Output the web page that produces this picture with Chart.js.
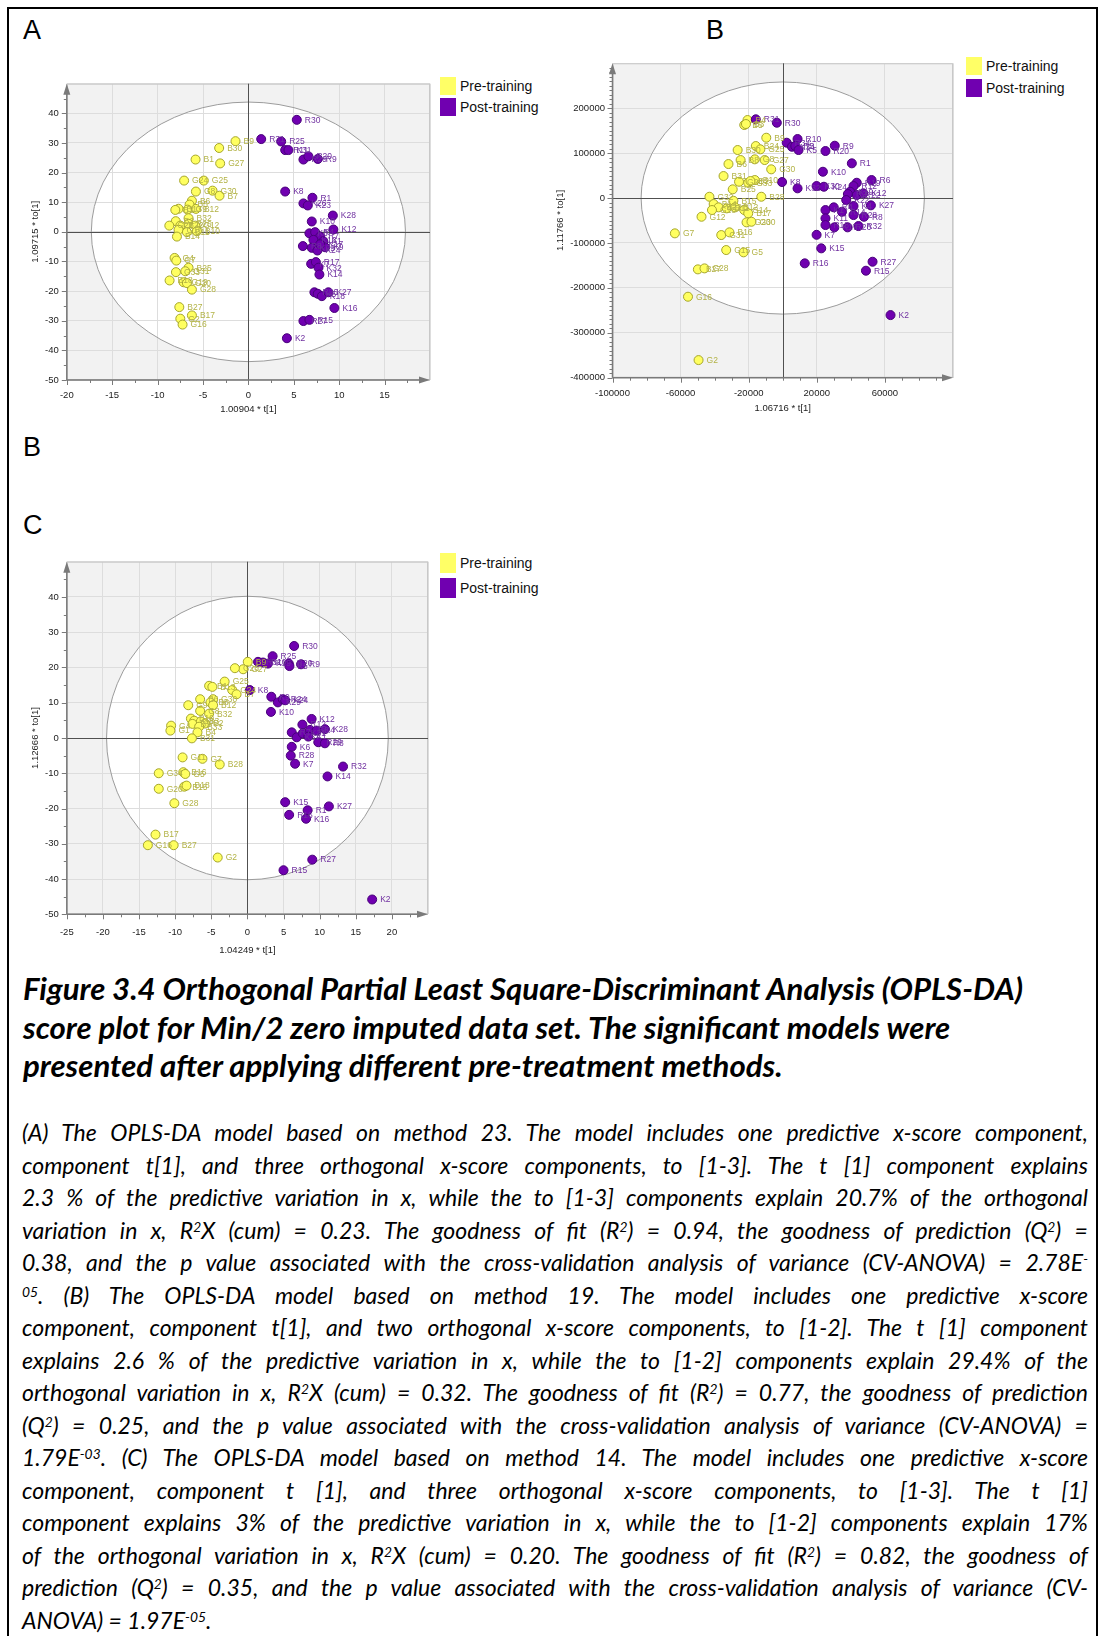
<!DOCTYPE html>
<html>
<head>
<meta charset="utf-8">
<script src="https://cdn.jsdelivr.net/npm/chart.js@4.4.1/dist/chart.umd.min.js"></script>
<style>
html, body { margin: 0; padding: 0; background: #fff; }
body { width: 1099px; height: 1636px; position: relative; overflow: hidden; font-family: 'Liberation Sans', Arial, sans-serif; }
.frame { position: absolute; left: 7px; top: 7px; width: 1087px; height: 1700px; border: 2px solid #000; border-bottom: none; }
.plabel { position: absolute; font-size: 27px; line-height: 27px; color: #000; }
canvas { position: absolute; }
.lg { position: absolute; font-size: 14px; color: #111; white-space: nowrap; }
.lg i { position: absolute; left: 0; top: 0; width: 16px; }
.lg span { position: absolute; left: 20px; top: 0; }
.title { position: absolute; left: 23px; top: 969px; font-family: Lato, sans-serif; font-style: italic; font-weight: 700; font-size: 25px; line-height: 38.5px; white-space: nowrap; color: #000; }
.body { position: absolute; left: 22px; top: 1116px; width: 1066px; font-family: Lato, sans-serif; font-style: italic; font-size: 23px; line-height: 32.5px; color: #000; }
.body div { white-space: nowrap; }
sup { font-size: 0.6em; position: relative; top: -0.5em; vertical-align: baseline; line-height: 0; }
</style>
</head>
<body>
<div class="frame"></div>

<div class="plabel" style="left:23px;top:17px">A</div>
<div class="plabel" style="left:706px;top:17px">B</div>
<div class="plabel" style="left:23px;top:434px">B</div>
<div class="plabel" style="left:23px;top:512px">C</div>

<canvas id="chA" width="430" height="350" style="left:10px;top:70px"></canvas>
<canvas id="chB" width="415" height="370" style="left:548px;top:50px"></canvas>
<canvas id="chC" width="430" height="412" style="left:10px;top:548px"></canvas>

<div class="lg" style="left:440px;top:77px;height:18px;line-height:18px"><i style="height:18px;background:#ffff66"></i><span>Pre-training</span></div>
<div class="lg" style="left:440px;top:98px;height:18px;line-height:18px"><i style="height:18px;background:#7000b0"></i><span>Post-training</span></div>
<div class="lg" style="left:966px;top:57px;height:18px;line-height:18px"><i style="height:18px;background:#ffff66"></i><span>Pre-training</span></div>
<div class="lg" style="left:966px;top:79px;height:18px;line-height:18px"><i style="height:18px;background:#7000b0"></i><span>Post-training</span></div>
<div class="lg" style="left:440px;top:553px;height:20px;line-height:20px"><i style="height:20px;background:#ffff66"></i><span>Pre-training</span></div>
<div class="lg" style="left:440px;top:578px;height:20px;line-height:20px"><i style="height:20px;background:#7000b0"></i><span>Post-training</span></div>

<div class="title" id="title">
  <div>Figure 3.4 Orthogonal Partial Least Square-Discriminant Analysis (OPLS-DA)</div>
  <div>score plot for Min/2 zero imputed data set. The significant models were</div>
  <div>presented after applying different pre-treatment methods.</div>
</div>

<div class="body" id="caption">
  <div class="jl">(A) The OPLS-DA model based on method 23. The model includes one predictive x-score component,</div>
  <div class="jl">component t[1], and three orthogonal x-score components, to [1-3]. The t [1] component explains</div>
  <div class="jl">2.3 % of the predictive variation in x, while the to [1-3] components explain 20.7% of the orthogonal</div>
  <div class="jl">variation in x, R<sup>2</sup>X (cum) = 0.23. The goodness of fit (R<sup>2</sup>) = 0.94, the goodness of prediction (Q<sup>2</sup>) =</div>
  <div class="jl">0.38, and the p value associated with the cross-validation analysis of variance (CV-ANOVA) = 2.78E<sup>-</sup></div>
  <div class="jl"><sup>05</sup>. (B) The OPLS-DA model based on method 19. The model includes one predictive x-score</div>
  <div class="jl">component, component t[1], and two orthogonal x-score components, to [1-2]. The t [1] component</div>
  <div class="jl">explains 2.6 % of the predictive variation in x, while the to [1-2] components explain 29.4% of the</div>
  <div class="jl">orthogonal variation in x, R<sup>2</sup>X (cum) = 0.32. The goodness of fit (R<sup>2</sup>) = 0.77, the goodness of prediction</div>
  <div class="jl">(Q<sup>2</sup>) = 0.25, and the p value associated with the cross-validation analysis of variance (CV-ANOVA) =</div>
  <div class="jl">1.79E<sup>-03</sup>. (C) The OPLS-DA model based on method 14. The model includes one predictive x-score</div>
  <div class="jl">component, component t [1], and three orthogonal x-score components, to [1-3]. The t [1]</div>
  <div class="jl">component explains 3% of the predictive variation in x, while the to [1-2] components explain 17%</div>
  <div class="jl">of the orthogonal variation in x, R<sup>2</sup>X (cum) = 0.20. The goodness of fit (R<sup>2</sup>) = 0.82, the goodness of</div>
  <div class="jl">prediction (Q<sup>2</sup>) = 0.35, and the p value associated with the cross-validation analysis of variance (CV-</div>
  <div>ANOVA) = 1.97E<sup>-05</sup>.</div>
</div>

<script>
// ---- Panel A : method 23 ---------------------------------------------
const A_PRE_NAMES = ['B9','B30','B1','G27','G24','G25','G8','G30','B7','B6','B5','B13','B3','G9','B12','B32','B2','G22','B22','B26','G12','G10','B11','B10','B14','G4','G7','B25','G31','G33','B18','G19','G20','G28','B27','B17','G2','G16'];
const A_PRE_X = [-1.42,-3.22,-5.82,-3.11,-7.08,-4.91,-5.78,-3.95,-3.18,-6.22,-6.48,-7.69,-8.05,-6.70,-5.78,-6.59,-8.00,-8.71,-7.50,-6.59,-5.85,-7.69,-6.77,-5.67,-7.87,-8.13,-7.94,-6.59,-6.95,-7.98,-8.68,-7.14,-6.77,-6.22,-7.61,-6.22,-7.50,-7.25];
const A_PRE_Y = [30.6,28.3,24.4,23.1,17.3,17.3,13.6,13.9,12.2,10.5,9.2,7.8,7.4,7.5,7.75,4.6,3.6,2.1,2.1,2.7,2.1,0.7,-0.1,0.2,-1.6,-8.8,-9.7,-12.1,-13.3,-13.6,-16.4,-17.0,-17.3,-19.5,-25.4,-28.2,-29.3,-31.3];
const A_POST_NAMES = ['R30','R31','R25','R11','K31','R29','R20','R9','K8','R1','K26','K23','K28','K10','K12','K3','R4','R7','K13','K1','R8','K29','K24','K9','K17','K7','R17','K32','K14','R26','K5','K18','K27','K16','R27','R15','K2'];
const A_POST_X = [5.33,1.41,3.61,4.05,4.41,6.06,6.61,7.65,4.05,7.05,6.06,6.54,9.30,6.98,9.36,6.72,7.35,7.90,7.16,8.26,6.00,6.98,7.60,8.45,7.90,6.91,7.43,7.72,7.82,7.27,7.64,8.09,8.81,9.47,6.06,6.72,4.24];
const A_POST_Y = [37.8,31.3,30.5,27.6,27.6,24.4,25.5,24.6,13.6,11.5,9.6,8.9,5.5,3.5,0.8,-0.5,-0.1,-1.6,-2.7,-3.2,-4.8,-5.4,-6.3,-5.2,-4.2,-10.8,-10.2,-12.1,-14.4,-20.4,-20.9,-21.7,-20.4,-25.7,-30.1,-29.7,-35.9];
const A_ELLIPSE = [17.3, 43.8];

// ---- Panel B : method 19 ---------------------------------------------
const B_PRE_NAMES = ['B4','B5','B3','B9','B24','G25','B30','B8','G8','G27','G30','B6','B31','G24','G33','B10','B2','B25','B28','G32','B14','B15','B22','G10','B11','B12','G14','B17','G12','G20','G30','G7','G31','B16','G15','G5','B27','G28','G16','G2'];
const B_PRE_X = [-20690,-22610,-21620,-9680,-15830,-13160,-26490,-24750,-16410,-10610,-6780,-31880,-34780,-25680,-20290,-16410,-18960,-29390,-12580,-43070,-40580,-28990,-37680,-41560,-32870,-28000,-22610,-20290,-47710,-21270,-18380,-63360,-36120,-31300,-33220,-23010,-49850,-45970,-55660,-49450];
const B_PRE_Y = [173700,162600,164800,134300,115800,108400,106900,84630,86180,84630,63910,75720,48990,36300,34070,40090,37860,19370,2895,2895,-13360,-6013,-20710,-26720,-22940,-20710,-26720,-34070,-41640,-54120,-52780,-78610,-82400,-76390,-115800,-120900,-158800,-156600,-219700,-360800];
const B_POST_NAMES = ['R31','R30','R34','K34','R10','R5','K5','R20','R9','R1','K10','K8','K32','K30','K24','R6','R19','R12','K19','R2','K22','R22','K12','K27','K4','R4','R14','K1','K11','R28','R8','R18','K17','R26','R32','K7','K15','R16','R27','R15','K2'];
const B_POST_X = [-15830,-3478,2319,5391,8696,7362,9275,25100,30550,40580,23590,-400,8696,19880,24170,52170,43480,41560,39590,38260,37280,43480,47350,51770,41560,29970,34780,25100,25100,41560,47710,25100,30320,38090,44460,19880,22610,12930,52750,48870,63310];
const B_POST_Y = [175300,167700,123200,114200,131400,115800,106900,104700,116500,77270,58570,35630,21600,26720,25170,40090,34070,26720,14030,8908,-4454,6681,10470,-16260,-17820,-20710,-30510,-26720,-45210,-37860,-41640,-60130,-65250,-65250,-62360,-81860,-112000,-145400,-141800,-161800,-260600];
const B_X_TICKS = [-100000, -60000, -20000, 20000, 60000, 100000];
const B_ELLIPSE = [83200, 258400];

// ---- Panel C : method 14 ---------------------------------------------
const C_PRE_NAMES = ['B9','G27','G26','G25','B1','B13','G24','B7','B6','G30','B8','B12','G9','G8','B32','B10','G3','B5','B3','B2','B33','G4','G1','B4','B31','G11','G7','B28','G34','B16','G5','G20','B15','B18','G28','B17','G16','B27','G2'];
const C_PRE_X = [0.05,-0.59,-1.73,-3.15,-5.30,-4.85,-2.10,-1.50,-6.54,-4.75,-5.12,-4.75,-8.19,-6.54,-5.30,-7.82,-7.36,-7.60,-6.44,-5.85,-6.68,-10.56,-10.66,-6.91,-7.68,-8.97,-6.22,-3.83,-12.27,-8.87,-8.60,-12.27,-8.74,-8.42,-10.11,-12.72,-13.78,-10.21,-4.11];
const C_PRE_Y = [21.6,19.5,19.8,16.0,14.8,14.5,13.6,12.4,11.0,11.0,10.1,9.3,9.3,7.7,6.9,5.5,4.9,4.0,4.7,4.1,3.2,3.5,2.1,1.6,-0.1,-5.5,-5.9,-7.5,-10.0,-9.7,-10.2,-14.4,-13.8,-13.5,-18.5,-27.4,-30.4,-30.4,-33.9];
const C_POST_NAMES = ['R30','R25','R31','R10','K19','R20','K5','R9','K8','K9','K29','R24','K24','K10','K12','R12','R7','K3','K31','R6','K4','K28','R29','R8','K1','K6','R28','K7','R32','K14','K15','R16','R1','K16','K27','R27','R15','K2'];
const C_POST_X = [6.47,3.49,1.47,2.16,2.84,5.73,5.82,7.43,0.33,3.31,4.22,4.90,5.23,3.26,8.89,7.61,6.14,6.83,7.66,8.66,9.57,10.73,9.81,10.73,8.43,6.14,6.00,6.60,13.24,11.09,5.23,5.78,8.34,8.12,11.28,8.98,5.00,17.27];
const C_POST_Y = [26.1,23.2,21.6,21.4,21.1,21.1,20.4,20.9,13.6,11.7,10.1,11.0,10.7,7.4,5.4,3.8,1.6,0.2,1.3,2.3,2.1,2.5,-1.2,-1.5,0.4,-2.5,-5.0,-7.3,-8.1,-10.9,-18.2,-21.8,-20.5,-22.9,-19.4,-34.5,-37.5,-45.8];

const C_ELLIPSE = [19.5, 40.2];

// ---- colours ------------------------------------------------------------
const YELLOW = '#ffff60', YELLOW_EDGE = '#a6a62c', YELLOW_TXT = '#b3b347';
const PURPLE = '#7000b0', PURPLE_EDGE = '#48007a', PURPLE_TXT = '#7030a0';
const GRID = '#dddddd', AXIS = '#7a7a7a';

Chart.defaults.font.family = "'Liberation Sans', Arial, sans-serif";

const pts = (xs, ys) => xs.map((x, i) => ({ x, y: ys[i] }));

function ellipseBox(chart, ell) {
    const { x, y } = chart.scales;
    const cx = x.getPixelForValue(0), cy = y.getPixelForValue(0);
    return { cx, cy, rx: x.getPixelForValue(ell[0]) - cx, ry: cy - y.getPixelForValue(ell[1]) };
}

// ── fondo gris, elipse de Hotelling, cruz, ejes con flecha y etiquetas ──
const decor = {
    id: 'decor',
    beforeDraw(chart, args, o) {
        const { ctx, chartArea: a } = chart;
        const e = ellipseBox(chart, o.ellipse);
        ctx.save();
        ctx.fillStyle = '#f2f2f2';
        ctx.fillRect(a.left, a.top, a.width, a.height);
        ctx.beginPath();
        ctx.ellipse(e.cx, e.cy, e.rx, e.ry, 0, 0, Math.PI * 2);
        ctx.fillStyle = '#ffffff';
        ctx.fill();
        ctx.restore();
    },
    beforeDatasetsDraw(chart, args, o) {
        const { ctx, chartArea: a, scales: { x, y } } = chart;
        const e = ellipseBox(chart, o.ellipse);
        ctx.save();
        ctx.lineWidth = 1;
        ctx.strokeStyle = '#c8c8c8';
        ctx.strokeRect(a.left + 0.5, a.top + 0.5, a.width - 1, a.height - 1);

        ctx.beginPath();
        ctx.ellipse(e.cx, e.cy, e.rx, e.ry, 0, 0, Math.PI * 2);
        ctx.strokeStyle = '#9c9c9c';
        ctx.stroke();

        const x0 = Math.round(e.cx) + 0.5, y0 = Math.round(e.cy) + 0.5;
        ctx.strokeStyle = '#505050';
        ctx.beginPath();
        ctx.moveTo(x0, a.top); ctx.lineTo(x0, a.bottom);
        ctx.moveTo(a.left, y0); ctx.lineTo(a.right, y0);
        ctx.stroke();

        // ejes + flechas
        ctx.strokeStyle = AXIS; ctx.fillStyle = AXIS; ctx.lineWidth = 1.5;
        ctx.beginPath();
        ctx.moveTo(a.left, a.bottom); ctx.lineTo(a.left, a.top + 8);
        ctx.moveTo(a.left, a.bottom); ctx.lineTo(a.right - 8, a.bottom);
        ctx.stroke();
        ctx.beginPath();
        ctx.moveTo(a.left, a.top); ctx.lineTo(a.left - 3.5, a.top + 11); ctx.lineTo(a.left + 3.5, a.top + 11);
        ctx.fill();
        ctx.beginPath();
        ctx.moveTo(a.right, a.bottom); ctx.lineTo(a.right - 11, a.bottom - 3.5); ctx.lineTo(a.right - 11, a.bottom + 3.5);
        ctx.fill();

        // marcas mayores y menores
        ctx.lineWidth = 1;
        const isMajor = (s, v) => s.ticks.some(t => Math.abs(t.value - v) < o.eps);
        ctx.beginPath();
        for (let v = x.min; v < x.max - o.eps; v += o.xMinor) {
            const px = Math.round(x.getPixelForValue(v)) + 0.5;
            ctx.moveTo(px, a.bottom); ctx.lineTo(px, a.bottom + (isMajor(x, v) ? 5 : 3));
        }
        for (let v = y.min; v < y.max - o.eps; v += o.yMinor) {
            const py = Math.round(y.getPixelForValue(v)) + 0.5;
            ctx.moveTo(a.left, py); ctx.lineTo(a.left - (isMajor(y, v) ? 5 : 3), py);
        }
        ctx.stroke();
        ctx.restore();
    },
    afterDatasetsDraw(chart) {
        const ctx = chart.ctx;
        ctx.save();
        ctx.font = "8.5px 'Liberation Sans', Arial, sans-serif";
        ctx.textBaseline = 'middle';
        chart.data.datasets.forEach((ds, di) => {
            const meta = chart.getDatasetMeta(di);
            ctx.fillStyle = ds.nameColor;
            meta.data.forEach((p, i) => ctx.fillText(ds.names[i], p.x + 8, p.y + 0.5));
        });
        ctx.restore();
    },
    afterDraw(chart, args, o) {
        const { ctx, chartArea: a } = chart;
        ctx.save();
        ctx.fillStyle = '#222';
        ctx.font = "9.5px 'Liberation Sans', Arial, sans-serif";
        ctx.textAlign = 'center';
        ctx.textBaseline = 'middle';
        ctx.fillText(o.xTitle, (a.left + a.right) / 2, a.bottom + o.xTitleDy);
        ctx.translate(a.left - o.yTitleDx, (a.top + a.bottom) / 2);
        ctx.rotate(-Math.PI / 2);
        ctx.fillText(o.yTitle, 0, 0);
        ctx.restore();
    },
};

function buildScore(id, c) {
    const ctx = document.getElementById(id).getContext('2d');
    return new Chart(ctx, {
        type: 'scatter',
        data: {
            datasets: [
                { label: 'Post-training', data: pts(c.postX, c.postY), names: c.postNames, nameColor: PURPLE_TXT,
                  backgroundColor: PURPLE, borderColor: PURPLE_EDGE, borderWidth: 1, pointRadius: 4.5, order: 0 },
                { label: 'Pre-training', data: pts(c.preX, c.preY), names: c.preNames, nameColor: YELLOW_TXT,
                  backgroundColor: YELLOW, borderColor: YELLOW_EDGE, borderWidth: 1, pointRadius: 4.5, order: 1 },
            ],
        },
        options: {
            responsive: false, animation: false, devicePixelRatio: 1,
            layout: { padding: { left: 0, right: c.padR, top: c.padT, bottom: 0 } },
            plugins: {
                legend: { display: false }, tooltip: { enabled: false },
                decor: { ellipse: c.ellipse, xMinor: c.xMinor, yMinor: c.yMinor, eps: c.eps,
                         xTitle: c.xTitle, yTitle: c.yTitle, xTitleDy: c.xTitleDy, yTitleDx: c.yTitleDx },
            },
            scales: {
                x: {
                    type: 'linear', min: c.xMin, max: c.xMax,
                    afterFit: s => { s.height = c.xH; },
                    afterBuildTicks: c.xTicks ? s => { s.ticks = c.xTicks.map(v => ({ value: v })); } : undefined,
                    ticks: { stepSize: c.xStep, padding: c.xPad, maxRotation: 0, autoSkip: false, color: '#222',
                             font: { size: 9.5 }, callback: v => (v === c.xMax ? '' : String(v)) },
                    grid: { color: GRID, drawTicks: false },
                    border: { display: false },
                },
                y: {
                    type: 'linear', min: c.yMin, max: c.yMax,
                    afterFit: s => { s.width = c.yW; },
                    ticks: { stepSize: c.yStep, padding: c.yPad, autoSkip: false, color: '#222',
                             font: { size: 9.5 }, callback: v => (v === c.yMax ? '' : String(v)) },
                    grid: { color: GRID, drawTicks: false },
                    border: { display: false },
                },
            },
        },
        plugins: [decor],
    });
}

buildScore('chA', {
    preNames: A_PRE_NAMES, preX: A_PRE_X, preY: A_PRE_Y,
    postNames: A_POST_NAMES, postX: A_POST_X, postY: A_POST_Y, ellipse: A_ELLIPSE,
    xMin: -20, xMax: 20, xStep: 5, yMin: -50, yMax: 50, yStep: 10, xMinor: 2.5, yMinor: 5, eps: 1e-6,
    padR: 9, padT: 12.3, yW: 56.8, xH: 40, xPad: 10, yPad: 8,
    xTitle: '1.00904 * t[1]', yTitle: '1.09715 * to[1]', xTitleDy: 29.3, yTitleDx: 31.1,
});

buildScore('chB', {
    preNames: B_PRE_NAMES, preX: B_PRE_X, preY: B_PRE_Y,
    postNames: B_POST_NAMES, postX: B_POST_X, postY: B_POST_Y, ellipse: B_ELLIPSE,
    xMin: -100000, xMax: 100000, xTicks: B_X_TICKS, yMin: -400000, yMax: 300000, yStep: 100000,
    xMinor: 10000, yMinor: 10000, eps: 1,
    padR: 5.9, padT: 13.3, yW: 64.5, xH: 42.3, xPad: 10, yPad: 7.5,
    xTitle: '1.06716 * t[1]', yTitle: '1.11766 * to[1]', xTitleDy: 30.6, yTitleDx: 52.5,
});

buildScore('chC', {
    preNames: C_PRE_NAMES, preX: C_PRE_X, preY: C_PRE_Y,
    postNames: C_POST_NAMES, postX: C_POST_X, postY: C_POST_Y, ellipse: C_ELLIPSE,
    xMin: -25, xMax: 25, xStep: 5, yMin: -50, yMax: 50, yStep: 10, xMinor: 2.5, yMinor: 5, eps: 1e-6,
    padR: 9, padT: 12, yW: 56.8, xH: 45.7, xPad: 12, yPad: 8,
    xTitle: '1.04249 * t[1]', yTitle: '1.12666 * to[1]', xTitleDy: 35.7, yTitleDx: 31.1,
});

// ── ajuste del pie de figura: titulo a 1000 px, lineas justificadas ──
function textWidth(el) {
    const r = document.createRange();
    r.selectNodeContents(el);
    return r.getBoundingClientRect().width;
}

function fitCaption() {
    const title = document.getElementById('title');
    title.style.fontSize = '25px';
    const w0 = textWidth(title.firstElementChild);
    title.style.fontSize = (25 * 1000 / w0).toFixed(2) + 'px';

    const target = 1066;
    document.querySelectorAll('#caption .jl').forEach(el => {
        el.style.wordSpacing = '0px';
        const w = textWidth(el);
        const gaps = el.textContent.trim().split(/\s+/).length - 1;
        if (gaps > 0) el.style.wordSpacing = ((target - w) / gaps).toFixed(2) + 'px';
    });
}
fitCaption();
if (document.fonts && document.fonts.ready) document.fonts.ready.then(fitCaption);
</script>
</body>
</html>
